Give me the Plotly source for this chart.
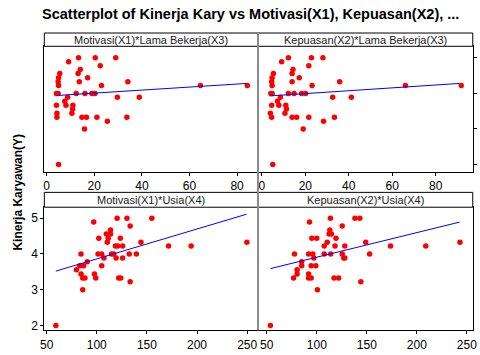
import plotly.graph_objects as go

# ---- data ----
panel_titles = ["Motivasi(X1)*Lama Bekerja(X3)", "Kepuasan(X2)*Lama Bekerja(X3)",
                "Motivasi(X1)*Usia(X4)", "Kepuasan(X2)*Usia(X4)"]

y_top = [2.0, 4.89, 5, 5, 5, 4.78, 4.67, 4.56, 4.56, 4.44, 4.44, 4.33, 4.33, 4.33,
         4.22, 4.22, 4.22, 4.22, 4.0, 4.0, 4.0, 4.0, 4.0, 4.0, 3.89, 3.89, 3.89, 3.78,
         3.67, 3.67, 3.67, 3.56, 3.44, 3.44, 3.33, 3.33, 3.33, 3.33, 3.33, 3.22, 3.0]
x_mot_lama = [5.0, 9.2, 13.4, 20.4, 29.0, 22.5, 14.1, 5.5, 13.2, 5.0, 17.2, 4.8, 13.7, 34.1,
              5.0, 23.0, 64.6, 84.3, 4.1, 4.8, 12.4, 16.1, 19.0, 20.3, 8.8, 29.7, 38.9, 7.6,
              4.1, 8.1, 11.0, 10.9, 10.6, 4.3, 4.3, 14.8, 16.7, 21.1, 33.7, 25.5, 15.9]
x_kep_lama = [5.0, 9.1, 12.2, 22.8, 28.1, 21.6, 14.3, 13.9, 5.3, 4.7, 17.2, 4.5, 13.9, 35.8,
              4.7, 23.1, 66.1, 91.8, 4.1, 4.7, 12.2, 14.8, 18.3, 20.1, 8.5, 32.6, 41.2, 7.2,
              4.5, 7.8, 11.0, 11.3, 10.6, 3.9, 4.5, 13.9, 16.0, 21.6, 33.4, 28.4, 19.0]

y_bot = [2.0, 4.89, 5, 5, 5, 4.78, 4.67, 4.56, 4.56, 4.44, 4.44, 4.44, 4.33, 4.33, 4.33,
         4.22, 4.22, 4.22, 4.22, 4.22, 4.0, 4.0, 4.0, 4.0, 4.0, 4.0, 4.0, 3.89, 3.89, 3.89,
         3.78, 3.67, 3.67, 3.67, 3.56, 3.44, 3.44, 3.33, 3.33, 3.33, 3.33, 3.33, 3.22, 3.0]
x_mot_usia = [59.2, 97, 120.3, 130.1, 154.9, 133.3, 113.7, 109.5, 113.7, 102, 111.4, 123.5,
              110.5, 144.1, 249.7, 118.6, 120.9, 125.8, 171.6, 194.1, 84.3, 101.3, 104.9,
              114.7, 117, 132.4, 139.5, 107.2, 119.3, 125.8, 90.5, 83, 86.9, 104.9, 79.7,
              84.3, 97.7, 86, 88.2, 99, 121.9, 123.9, 133.3, 86]
x_kep_usia = [53.6, 92.7, 113.6, 138.1, 143, 125.4, 113, 112.3, 114.6, 95, 99.9, 119.2,
              110.4, 148.9, 243.1, 107.4, 118.2, 128, 173.7, 208.9, 77.7, 91.8, 96, 107.4,
              113.9, 125.4, 152.8, 97, 127, 128, 84.9, 94.4, 99, 84.9, 80.3, 80.3, 91.8,
              76.8, 91.8, 94.4, 117.2, 121.8, 144, 100.6]

# fitted-line end points
fit_x = [[4.1, 84.1], [3.9, 91.0], [59.2, 249.4], [53.6, 242.8]]
fit_y = [[3.94, 4.28], [3.93, 4.28], [3.52, 5.11], [3.59, 4.89]]

x_ticks_top = [0, 20, 40, 60, 80]
x_ticks_bot = [50, 100, 150, 200, 250]
y_ticks = [2, 3, 4, 5]

# ---- layout helpers ----
W, H = 480, 355
def fx(px): return px / W
def fy(py): return 1 - py / H

XL, XM, XR = 41, 258.3, 476.7
TOP_H0, TOP_H1, TOP_B = 33.3, 46.7, 173
BOT_H0, BOT_H1, BOT_B = 194, 209, 333

FONT = "Liberation Sans, Arial, sans-serif"

fig = go.Figure()
xs = [x_mot_lama, x_kep_lama, x_mot_usia, x_kep_usia]
ys = [y_top, y_top, y_bot, y_bot]
for i in range(4):
    ax = "" if i == 0 else str(i + 1)
    fig.add_trace(go.Scatter(x=xs[i], y=ys[i], mode="markers",
                             marker=dict(color="#ff0000", size=5.5, line=dict(width=0)),
                             xaxis="x" + ax, yaxis="y" + ax, showlegend=False, cliponaxis=False))
    fig.add_trace(go.Scatter(x=fit_x[i], y=fit_y[i], mode="lines",
                             line=dict(color="#0000ff", width=1),
                             xaxis="x" + ax, yaxis="y" + ax, showlegend=False))

common = dict(showline=True, mirror=True, linecolor="black", linewidth=1,
              showgrid=False, zeroline=False, ticks="outside", ticklen=3,
              tickcolor="black", ticklabeloverflow="allow",
              tickfont=dict(family=FONT, size=12, color="black"))

ydom_top = [fy(TOP_B), fy(TOP_H1)]
ydom_bot = [fy(BOT_B), fy(BOT_H1)]
xdom_l = [fx(XL), fx(XM)]
xdom_r = [fx(XM), fx(XR)]

fig.update_layout(
    width=W, height=H, margin=dict(l=0, r=0, t=0, b=0),
    paper_bgcolor="white", plot_bgcolor="white",
    xaxis=dict(common, domain=xdom_l, range=[-1, 88.8], tickvals=x_ticks_top, anchor="y"),
    yaxis=dict(common, domain=ydom_top, range=[1.805, 5.323], tickvals=y_ticks,
               ticks="", showticklabels=False, anchor="x"),
    xaxis2=dict(common, domain=xdom_r, range=[-1.8, 97.1], tickvals=x_ticks_top, anchor="y2"),
    yaxis2=dict(common, domain=ydom_top, range=[1.805, 5.323], tickvals=y_ticks,
                side="right", showticklabels=False, anchor="x2"),
    xaxis3=dict(common, domain=xdom_l, range=[47.7, 260.8], tickvals=x_ticks_bot, anchor="y3"),
    yaxis3=dict(common, domain=ydom_bot, range=[1.87, 5.305], tickvals=y_ticks, anchor="x3"),
    xaxis4=dict(common, domain=xdom_r, range=[41.2, 255.9], tickvals=x_ticks_bot, anchor="y4"),
    yaxis4=dict(common, domain=ydom_bot, range=[1.87, 5.305], tickvals=y_ticks,
                ticks="", showticklabels=False, anchor="x4"),
)

shapes = []
for (h0, h1) in [(TOP_H0, TOP_H1), (BOT_H0, BOT_H1)]:
    for (a, b) in [(XL, XM), (XM, XR)]:
        shapes.append(dict(type="rect", xref="paper", yref="paper",
                           x0=fx(a), x1=fx(b), y0=fy(h1), y1=fy(h0),
                           line=dict(color="black", width=1), fillcolor="white"))
shapes.append(dict(type="line", xref="paper", yref="paper", x0=fx(XM), x1=fx(XM),
                   y0=fy(BOT_B), y1=fy(TOP_H0), line=dict(color="#8c8c8c", width=2)))
fig.update_layout(shapes=shapes)

ann = [dict(text="<b>Scatterplot of Kinerja Kary vs Motivasi(X1), Kepuasan(X2), ...</b>",
            x=fx(250.5), y=fy(14), xref="paper", yref="paper", showarrow=False,
            xanchor="center", yanchor="middle",
            font=dict(family=FONT, size=14.5, color="black")),
       dict(text="<b>Kinerja Karyawan(Y)</b>", x=fx(14.5), y=fy(194), xref="paper", yref="paper",
            showarrow=False, textangle=-90, xanchor="center", yanchor="middle",
            font=dict(family=FONT, size=12, color="black"))]
centers = [((XL + XM) / 2, (TOP_H0 + TOP_H1) / 2), ((XM + XR) / 2, (TOP_H0 + TOP_H1) / 2),
           ((XL + XM) / 2, (BOT_H0 + BOT_H1) / 2), ((XM + XR) / 2, (BOT_H0 + BOT_H1) / 2)]
for t, (cx, cy) in zip(panel_titles, centers):
    ann.append(dict(text=t, x=fx(cx), y=fy(cy), xref="paper", yref="paper", showarrow=False,
                    xanchor="center", yanchor="middle",
                    font=dict(family=FONT, size=11, color="#202020")))
fig.update_layout(annotations=ann)

fig.write_html("out.html")
